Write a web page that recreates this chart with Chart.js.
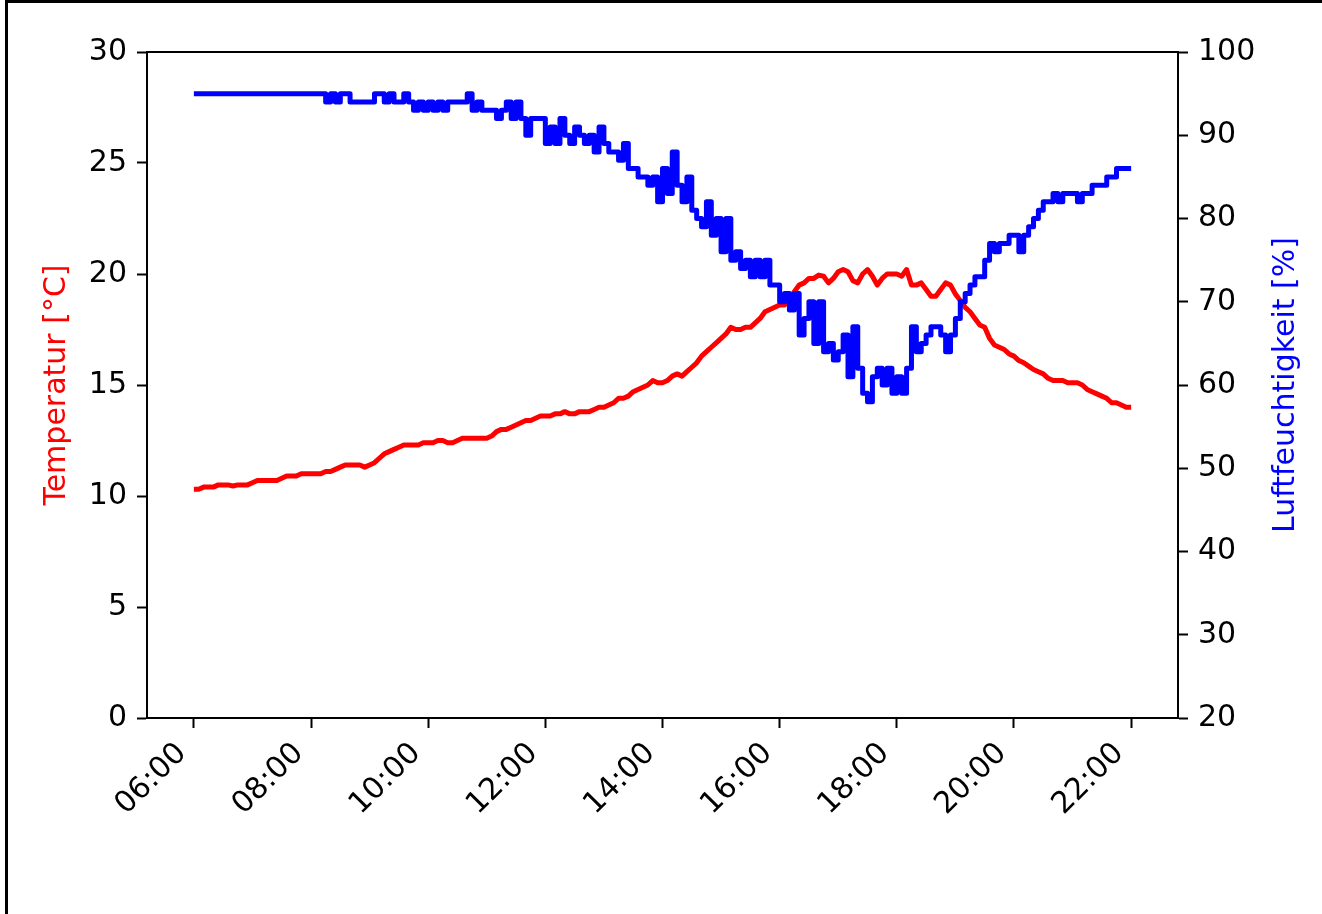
<!DOCTYPE html>
<html>
<head>
<meta charset="utf-8">
<script src="https://cdn.jsdelivr.net/npm/chart.js@4/dist/chart.umd.min.js"></script>
<style>
  html, body { margin: 0; padding: 0; background: #fff; }
  #wrap { position: relative; width: 1322px; height: 914px; overflow: hidden; }
  #rahmen { position: absolute; left: 5px; top: 0; width: 1400px; height: 1000px;
            border-top: 3px solid #000; border-left: 3px solid #000; pointer-events: none; }
  canvas { position: absolute; left: 0; top: 0; }
</style>
</head>
<body>
<div id="wrap">
  <canvas id="grafica"></canvas>
  <div id="rahmen"></div>
</div>
<script>
// Messzeiten (alle 5 Minuten)
const zeiten = [
  '06:00','06:05','06:10','06:15','06:20','06:25','06:30','06:35','06:40','06:45','06:50','06:55',
  '07:00','07:05','07:10','07:15','07:20','07:25','07:30','07:35','07:40','07:45','07:50','07:55',
  '08:00','08:05','08:10','08:15','08:20','08:25','08:30','08:35','08:40','08:45','08:50','08:55',
  '09:00','09:05','09:10','09:15','09:20','09:25','09:30','09:35','09:40','09:45','09:50','09:55',
  '10:00','10:05','10:10','10:15','10:20','10:25','10:30','10:35','10:40','10:45','10:50','10:55',
  '11:00','11:05','11:10','11:15','11:20','11:25','11:30','11:35','11:40','11:45','11:50','11:55',
  '12:00','12:05','12:10','12:15','12:20','12:25','12:30','12:35','12:40','12:45','12:50','12:55',
  '13:00','13:05','13:10','13:15','13:20','13:25','13:30','13:35','13:40','13:45','13:50','13:55',
  '14:00','14:05','14:10','14:15','14:20','14:25','14:30','14:35','14:40','14:45','14:50','14:55',
  '15:00','15:05','15:10','15:15','15:20','15:25','15:30','15:35','15:40','15:45','15:50','15:55',
  '16:00','16:05','16:10','16:15','16:20','16:25','16:30','16:35','16:40','16:45','16:50','16:55',
  '17:00','17:05','17:10','17:15','17:20','17:25','17:30','17:35','17:40','17:45','17:50','17:55',
  '18:00','18:05','18:10','18:15','18:20','18:25','18:30','18:35','18:40','18:45','18:50','18:55',
  '19:00','19:05','19:10','19:15','19:20','19:25','19:30','19:35','19:40','19:45','19:50','19:55',
  '20:00','20:05','20:10','20:15','20:20','20:25','20:30','20:35','20:40','20:45','20:50','20:55',
  '21:00','21:05','21:10','21:15','21:20','21:25','21:30','21:35','21:40','21:45','21:50','21:55',
  '22:00'
];

// Temperatur [°C]
const temperatur = [
  10.3, 10.3, 10.4, 10.4, 10.4, 10.5, 10.5, 10.5, 10.45, 10.5, 10.5, 10.5,
  10.6, 10.7, 10.7, 10.7, 10.7, 10.7, 10.8, 10.9, 10.9, 10.9, 11.0, 11.0,
  11.0, 11.0, 11.0, 11.1, 11.1, 11.2, 11.3, 11.4, 11.4, 11.4, 11.4, 11.3,
  11.4, 11.5, 11.7, 11.9, 12.0, 12.1, 12.2, 12.3, 12.3, 12.3, 12.3, 12.4,
  12.4, 12.4, 12.5, 12.5, 12.4, 12.4, 12.5, 12.6, 12.6, 12.6, 12.6, 12.6,
  12.6, 12.7, 12.9, 13.0, 13.0, 13.1, 13.2, 13.3, 13.4, 13.4, 13.5, 13.6,
  13.6, 13.6, 13.7, 13.7, 13.8, 13.7, 13.7, 13.8, 13.8, 13.8, 13.9, 14.0,
  14.0, 14.1, 14.2, 14.4, 14.4, 14.5, 14.7, 14.8, 14.9, 15.0, 15.2, 15.1,
  15.1, 15.2, 15.4, 15.5, 15.4, 15.6, 15.8, 16.0, 16.3, 16.5, 16.7, 16.9,
  17.1, 17.3, 17.6, 17.5, 17.5, 17.6, 17.6, 17.8, 18.0, 18.3, 18.4, 18.5,
  18.6, 18.6, 18.9, 19.2, 19.5, 19.6, 19.8, 19.8, 19.95, 19.9, 19.6, 19.8,
  20.1, 20.2, 20.1, 19.7, 19.6, 20.0, 20.2, 19.9, 19.5, 19.8, 20.0, 20.0,
  20.0, 19.9, 20.2, 19.5, 19.5, 19.6, 19.3, 19.0, 19.0, 19.3, 19.6, 19.5,
  19.1, 18.8, 18.5, 18.3, 18.0, 17.7, 17.6, 17.1, 16.8, 16.7, 16.6, 16.4,
  16.3, 16.1, 16.0, 15.85, 15.7, 15.6, 15.5, 15.3, 15.2, 15.2, 15.2, 15.1,
  15.1, 15.1, 15.0, 14.8, 14.7, 14.6, 14.5, 14.4, 14.2, 14.2, 14.1, 14.0,
  14.0
];

// Luftfeuchtigkeit [%]
const luftfeuchte = [
  95, 95, 95, 95, 95, 95, 95, 95, 95, 95, 95, 95,
  95, 95, 95, 95, 95, 95, 95, 95, 95, 95, 95, 95,
  95, 95, 95, 94, 95, 94, 95, 95, 94, 94, 94, 94,
  94, 95, 95, 94, 95, 94, 94, 95, 94, 93, 94, 93,
  94, 93, 94, 93, 94, 94, 94, 94, 95, 93, 94, 93,
  93, 93, 92, 93, 94, 92, 94, 92, 90, 92, 92, 92,
  89, 91, 89, 92, 90, 89, 91, 90, 89, 90, 88, 91,
  89, 88, 88, 87, 89, 86, 86, 85, 85, 84, 85, 82,
  86, 83, 88, 84, 82, 85, 81, 80, 79, 82, 78, 80,
  76, 80, 75, 76, 74, 75, 73, 75, 73, 75, 72, 72,
  70, 71, 69, 71, 66, 68, 70, 65, 70, 64, 65, 63,
  64, 66, 61, 67, 62, 59, 58, 61, 62, 60, 62, 59,
  61, 59, 62, 67, 64, 65, 66, 67, 67, 66, 64, 66,
  68, 70, 71, 72, 73, 73, 75, 77, 76, 77, 77, 78,
  78, 76, 78, 79, 80, 81, 82, 82, 83, 82, 83, 83,
  83, 82, 83, 83, 84, 84, 84, 85, 85, 86, 86, 86,
  86
];

// Achsenbeschriftung
const xTicks = ['06:00','08:00','10:00','12:00','14:00','16:00','18:00','20:00','22:00'];
const tempTicks = [0, 5, 10, 15, 20, 25, 30];
const feuchteTicks = [20, 30, 40, 50, 60, 70, 80, 90, 100];

function minuten(hhmm) {
  const p = hhmm.split(':');
  return parseInt(p[0]) * 60 + parseInt(p[1]);
}
function hhmm(m) {
  const h = Math.floor(m / 60), mm = Math.round(m % 60);
  return String(h).padStart(2, '0') + ':' + String(mm).padStart(2, '0');
}

const tMin = minuten(zeiten[0]), tMax = minuten(zeiten[zeiten.length - 1]);
const rand = (tMax - tMin) * 0.05;

const schrift = { family: 'DejaVu Sans', size: 30 };

// Rahmen oben + rechte Achsenbeschriftung (von unten nach oben, wie matplotlib)
const rahmenPlugin = {
  id: 'rahmenOben',
  afterDraw(chart) {
    const a = chart.chartArea, ctx = chart.ctx;
    ctx.save();
    ctx.strokeStyle = '#000';
    ctx.lineWidth = 2;
    ctx.beginPath();
    ctx.moveTo(a.left, a.top);
    ctx.lineTo(a.right, a.top);
    ctx.stroke();

    ctx.translate(1286, (a.top + a.bottom) / 2);
    ctx.rotate(-Math.PI / 2);
    ctx.fillStyle = '#0000ff';
    ctx.font = '30px "DejaVu Sans"';
    ctx.textAlign = 'center';
    ctx.textBaseline = 'middle';
    ctx.fillText('Luftfeuchtigkeit [%]', 0, 0);
    ctx.restore();
  }
};

const ctx = document.getElementById('grafica').getContext('2d');
new Chart(ctx, {
  type: 'line',
  data: {
    datasets: [{
      label: 'Luftfeuchtigkeit',
      data: zeiten.map((z, i) => ({ x: minuten(z), y: luftfeuchte[i] })),
      borderColor: '#0000ff',
      borderWidth: 5,
      pointRadius: 0,
      stepped: true,
      borderJoinStyle: 'round',
      yAxisID: 'yR',
      order: 0
    }, {
      label: 'Temperatur',
      data: zeiten.map((z, i) => ({ x: minuten(z), y: temperatur[i] })),
      borderColor: '#ff0000',
      borderWidth: 5,
      pointRadius: 0,
      tension: 0,
      borderJoinStyle: 'round',
      yAxisID: 'yL',
      order: 1
    }]
  },
  options: {
    responsive: true,
    maintainAspectRatio: false,
    animation: false,
    layout: { padding: { top: 52, left: 0, right: 0, bottom: 0 } },
    plugins: { legend: { display: false }, tooltip: { enabled: false } },
    scales: {
      x: {
        type: 'linear',
        min: tMin - rand,
        max: tMax + rand,
        afterBuildTicks: s => { s.ticks = xTicks.map(t => ({ value: minuten(t) })); },
        afterFit: s => { s.height = 196; },
        ticks: {
          callback: v => hhmm(v),
          maxRotation: 45, minRotation: 45,
          autoSkip: false,
          color: '#000', font: schrift, padding: 8, labelOffset: -12
        },
        grid: { drawOnChartArea: false, tickLength: 10, tickWidth: 2, tickColor: '#000' },
        border: { display: true, color: '#000', width: 2 }
      },
      yL: {
        position: 'left',
        min: 0, max: 30,
        afterBuildTicks: s => { s.ticks = tempTicks.map(v => ({ value: v })); },
        afterFit: s => { s.width = 147; },
        ticks: { color: '#000', font: schrift, padding: 10 },
        grid: { drawOnChartArea: false, tickLength: 10, tickWidth: 2, tickColor: '#000' },
        border: { display: true, color: '#000', width: 2 },
        title: { display: true, text: 'Temperatur [°C]', color: '#ff0000', font: schrift, padding: { top: 39, bottom: 0 } }
      },
      yR: {
        position: 'right',
        min: 20, max: 100,
        afterBuildTicks: s => { s.ticks = feuchteTicks.map(v => ({ value: v })); },
        afterFit: s => { s.width = 144; },
        ticks: { color: '#000', font: schrift, padding: 10 },
        grid: { drawOnChartArea: false, tickLength: 10, tickWidth: 2, tickColor: '#000' },
        border: { display: true, color: '#000', width: 2 }
      }
    }
  },
  plugins: [rahmenPlugin]
});
</script>
</body>
</html>
